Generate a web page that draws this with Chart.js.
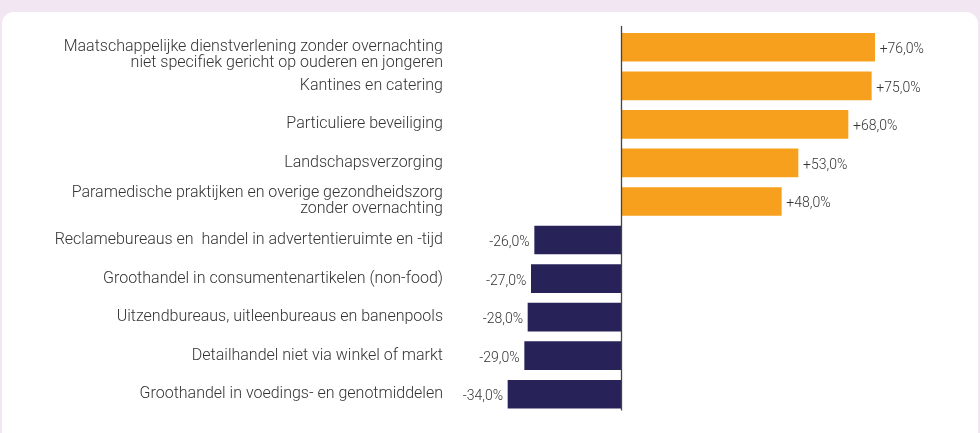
<!DOCTYPE html>
<html>
<head>
<meta charset="utf-8">
<script src="https://cdn.jsdelivr.net/npm/chart.js@4/dist/chart.umd.min.js"></script>
<style>
  html, body { margin: 0; padding: 0; }
  body { width: 980px; height: 433px; background: #f2e6f2; position: relative; overflow: hidden; }
  #panel { position: absolute; left: 2px; top: 12px; width: 976px; height: 440px; background: #fff; border-radius: 12px; }
  #wrap { position: absolute; left: 0; top: 0; width: 980px; height: 433px; }
</style>
</head>
<body>
<div id="panel"></div>
<div id="wrap"><canvas id="c" width="980" height="433"></canvas></div>
<script>
const categories = [
  ["", "Maatschappelijke dienstverlening zonder overnachting", "niet specifiek gericht op ouderen en jongeren"],
  "Kantines en catering",
  "Particuliere beveiliging",
  "Landschapsverzorging",
  ["Paramedische praktijken en overige gezondheidszorg", "zonder overnachting"],
  "Reclamebureaus en  handel in advertentieruimte en -tijd",
  "Groothandel in consumentenartikelen (non-food)",
  "Uitzendbureaus, uitleenbureaus en banenpools",
  "Detailhandel niet via winkel of markt",
  "Groothandel in voedings- en genotmiddelen"
];
const changeValues = [76, 75, 68, 53, 48, -26, -27, -28, -29, -34];
const valueLabels = ["+76,0%", "+75,0%", "+68,0%", "+53,0%", "+48,0%", "-26,0%", "-27,0%", "-28,0%", "-29,0%", "-34,0%"];

const ORANGE = '#f7a01e';
const NAVY = '#272359';
const TEXT = '#333333';

const valuePlugin = {
  id: 'valuePlugin',
  afterDatasetsDraw(chart) {
    const ctx = chart.ctx;
    const xs = chart.scales.x;
    const area = chart.chartArea;
    const zx = Math.round(xs.getPixelForValue(0)) + 0.5;
    ctx.save();
    ctx.strokeStyle = '#444';
    ctx.lineWidth = 1.3;
    ctx.beginPath();
    ctx.moveTo(zx, area.top - 2);
    ctx.lineTo(zx, area.bottom - 3);
    ctx.stroke();
    const meta = chart.getDatasetMeta(0);
    ctx.font = '300 14px Roboto';
    ctx.fillStyle = '#333333';
    ctx.textBaseline = 'middle';
    meta.data.forEach((bar, i) => {
      const v = changeValues[i];
      if (v >= 0) {
        ctx.textAlign = 'left';
        ctx.fillText(valueLabels[i], bar.x + 5, bar.y + 2.5);
      } else {
        ctx.textAlign = 'right';
        ctx.fillText(valueLabels[i], bar.x - 5, bar.y + 2.5);
      }
    });
    ctx.restore();
  }
};

new Chart(document.getElementById('c'), {
  type: 'bar',
  data: {
    labels: categories,
    datasets: [{
      data: changeValues,
      backgroundColor: changeValues.map(v => v >= 0 ? ORANGE : NAVY),
      borderWidth: 0,
      barThickness: 28
    }]
  },
  options: {
    indexAxis: 'y',
    responsive: false,
    animation: false,
    devicePixelRatio: 1,
    layout: { padding: { top: 28, bottom: 19.5, left: 0, right: 92 } },
    plugins: { legend: { display: false }, tooltip: { enabled: false } },
    scales: {
      x: {
        display: false,
        min: -52,
        max: 80
      },
      y: {
        afterFit(scale) {
          scale.width = 448;
          scale.paddingTop = 0;
          scale.paddingBottom = 0;
        },
        grid: { display: false, drawTicks: false },
        border: { display: false },
        ticks: {
          autoSkip: false,
          padding: 5,
          color: TEXT,
          font: { family: 'Roboto', size: 16, weight: 300, lineHeight: 1.0 }
        }
      }
    }
  },
  plugins: [valuePlugin]
});
</script>
</body>
</html>
